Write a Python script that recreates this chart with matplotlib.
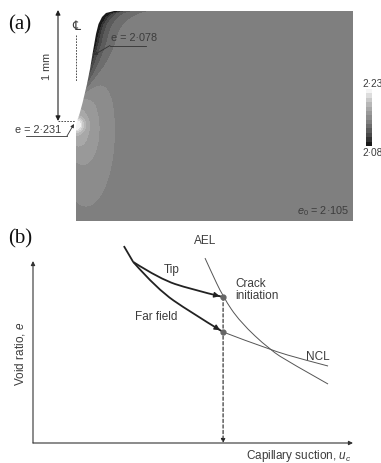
import numpy as np
import matplotlib
matplotlib.use("Agg")
import matplotlib.pyplot as plt
from matplotlib.path import Path
from matplotlib.patches import PathPatch
from matplotlib.colors import ListedColormap, BoundaryNorm

plt.rcParams["font.family"] = ["Liberation Sans", "DejaVu Sans"]
plt.rcParams["mathtext.fontset"] = "custom"
plt.rcParams["mathtext.rm"] = "Liberation Sans"
plt.rcParams["mathtext.it"] = "Liberation Sans:italic"

# ---------------- data: panel (a) ----------------
e_min, e_max, e0 = 2.078, 2.231, 2.105
cbar_labels = ["2·23", "2·08"]
# specimen left boundary (pixels of the drawing)
edge_y = [12, 14, 18, 25, 35, 55, 70, 85, 104, 115, 122, 127, 222]
edge_x = [114, 106, 102, 98.5, 96, 92.5, 90, 87, 82.5, 79.5, 77, 76, 76]
levels_e = [2.078, 2.084, 2.089, 2.094, 2.099, 2.103, 2.107, 2.114, 2.125,
            2.14, 2.16, 2.18, 2.205, 2.231]
band_grays = [0.10, 0.20, 0.29, 0.36, 0.43, 0.50, 0.55, 0.60, 0.66, 0.72,
              0.79, 0.87, 0.96]

# ---------------- data: panel (b) ----------------
steep_suction = [2.84, 3.13]
steep_void = [10.82, 9.95]
tip_suction = [3.13, 3.97, 4.91, 5.94]
tip_void = [9.95, 9.01, 8.46, 8.02]
far_suction = [3.13, 3.875, 4.91, 5.94]
far_void = [9.95, 8.46, 7.2, 6.10]
ael_suction = [5.375, 5.53, 5.94, 6.47, 7.41, 8.03, 9.22]
ael_void = [10.16, 9.56, 8.02, 6.65, 5.11, 4.42, 3.24]
ncl_suction = [5.94, 7.41, 8.5, 9.22]
ncl_void = [6.10, 5.11, 4.56, 4.23]
crack_suction = 5.94

W, H = 381, 464
fig = plt.figure(figsize=(W / 100, H / 100), dpi=100)
txt = "#3c3c3c"


def rect(x0, y0, x1, y1):
    return [x0 / W, 1 - y1 / H, (x1 - x0) / W, (y1 - y0) / H]


# ---------------- panel (a) field ----------------
axa = fig.add_axes(rect(76, 12, 353, 222))
axa.axis("off")
xs = np.linspace(76, 353, 831)
ys = np.linspace(12, 222, 631)
X, Y = np.meshgrid(xs, ys)
xb = np.interp(Y, edge_y, edge_x)
dx = np.clip(X - xb, 0, None)
dark_edge = -(e0 - e_min) * 1.0 * np.exp(-dx / 8) * np.clip((105 - Y) / 60, 0, 1) ** 0.8
dark_top = -0.010 * np.exp(-(Y - 12) / 8) * np.exp(-np.clip(X - 100, 0, None) / 25)
notch = (e_max - e0) * np.exp(-((X - 76) ** 2 + (Y - 126) ** 2) / (2 * 4.5 ** 2))
halo = 0.022 * np.exp(-((X - 76) ** 2 / (2 * 10 ** 2) + (Y - 128) ** 2 / (2 * 17 ** 2)))
blob = 0.011 * np.exp(-((X - 86) / 22) ** 2 - ((Y - 132) / 58) ** 2)
E = np.clip(e0 + dark_edge + dark_top + notch + halo + blob, e_min, e_max - 1e-4)

cmap = ListedColormap([(g, g, g) for g in band_grays])
norm = BoundaryNorm(levels_e, cmap.N)
im = axa.imshow(E, cmap=cmap, norm=norm, extent=(76, 353, 222, 12),
                interpolation="nearest", aspect="auto")
verts = [(x, y) for x, y in zip(edge_x, edge_y)] + [(353, 222), (353, 12), (edge_x[0], edge_y[0])]
clip = PathPatch(Path(verts), transform=axa.transData, facecolor="none", edgecolor="none")
axa.add_patch(clip)
im.set_clip_path(clip)
axa.set_xlim(76, 353)
axa.set_ylim(222, 12)

# colour bar
axc = fig.add_axes(rect(366, 90, 372, 147))
axc.imshow(np.arange(cmap.N)[::-1].reshape(-1, 1), cmap=cmap, aspect="auto",
           interpolation="nearest")
axc.axis("off")

# ---------------- panel (b) ----------------
axb = fig.add_axes(rect(33, 262, 353, 444))
axb.set_xlim(0, 10)
axb.set_ylim(0, 10)
axb.axis("off")


def smooth(xv, yv):
    p = list(zip(xv, yv))
    if len(p) == 2:
        return Path(p)
    v = [p[0]]
    c = [Path.MOVETO]
    for i in range(1, len(p) - 1):
        end = p[-1] if i == len(p) - 2 else ((p[i][0] + p[i + 1][0]) / 2, (p[i][1] + p[i + 1][1]) / 2)
        v += [p[i], end]
        c += [Path.CURVE3, Path.CURVE3]
    return Path(v, c)


def curve(xv, yv, lw, col):
    axb.add_patch(PathPatch(smooth(xv, yv), transform=axb.transData, fill=False,
                            lw=lw, edgecolor=col, clip_on=False, capstyle="butt"))


dark = "#222222"
thin = "#555555"
curve(steep_suction, steep_void, 1.3, dark)
curve(tip_suction, tip_void, 1.3, dark)
curve(far_suction, far_void, 1.3, dark)
curve(ael_suction, ael_void, 0.7, thin)
curve(ncl_suction, ncl_void, 0.7, thin)

for xv, yv in [(tip_suction, tip_void), (far_suction, far_void)]:
    ex, ey = xv[-1], yv[-1]
    sx = ex - 0.12 * (ex - xv[-2])
    sy = ey - 0.12 * (ey - yv[-2])
    axb.annotate("", xy=(ex, ey), xytext=(sx, sy),
                 arrowprops=dict(arrowstyle="-|>", color=dark, lw=1.0,
                                 mutation_scale=8, shrinkA=0, shrinkB=2.5))
axb.plot([crack_suction, crack_suction], [tip_void[-1], far_void[-1]], "o",
         ms=3.5, color="#666666", clip_on=False, zorder=5)
axb.annotate("", xy=(crack_suction, 0), xytext=(crack_suction, tip_void[-1]),
             arrowprops=dict(arrowstyle="-|>", color=dark, lw=0.8, ls=(0, (3, 2)),
                             mutation_scale=6, shrinkA=0, shrinkB=0))
for end in [(1, 0), (0, 1)]:
    axb.annotate("", xy=end, xytext=(0, 0), xycoords="axes fraction",
                 arrowprops=dict(arrowstyle="-|>", color="#333333", lw=0.8,
                                 mutation_scale=6, shrinkA=0, shrinkB=0))

# ---------------- overlay (annotations) ----------------
ov = fig.add_axes([0, 0, 1, 1])
ov.set_xlim(0, W)
ov.set_ylim(H, 0)
ov.axis("off")

serif = ["Liberation Serif", "DejaVu Serif"]
ov.text(8, 25, "(a)", family=serif, fontsize=15, color="#111111", ha="left", va="center")
ov.text(8, 239, "(b)", family=serif, fontsize=15, color="#111111", ha="left", va="center")

fs = 7.8
ov.annotate("", xy=(58, 11), xytext=(58, 122),
            arrowprops=dict(arrowstyle="<|-|>", color="#222222", lw=0.8,
                            mutation_scale=7, shrinkA=0, shrinkB=0))
ov.text(47, 66, "1 mm", rotation=90, fontsize=fs, color=txt, ha="center", va="center")
ov.plot([58, 75], [122, 122], color="#333333", lw=0.6, ls=(0, (2, 1.5)))
ov.text(76, 27, "\u2104", family=["DejaVu Sans"], fontsize=9, color=txt, ha="center", va="center")
ov.plot([76, 76], [36, 82], color="#333333", lw=0.6, ls=(0, (2, 1.5)))

ov.text(111, 38, "e = 2·078", fontsize=fs, color=txt, ha="left", va="center")
ov.plot([146, 110], [46.5, 46.5], color="#333333", lw=0.6)
ov.annotate("", xy=(94, 56), xytext=(110, 46.5),
            arrowprops=dict(arrowstyle="-|>", color="#333333", lw=0.6,
                            mutation_scale=5, shrinkA=0, shrinkB=0))
ov.text(15, 130, "e = 2·231", fontsize=fs, color=txt, ha="left", va="center")
ov.plot([26, 67], [137, 137], color="#333333", lw=0.6)
ov.annotate("", xy=(74, 125), xytext=(67, 137),
            arrowprops=dict(arrowstyle="-|>", color="#333333", lw=0.6,
                            mutation_scale=5, shrinkA=0, shrinkB=0))
ov.text(349, 211, r"$e_0$ = 2·105", fontsize=fs, color=txt, ha="right", va="center")
ov.text(362, 84, cbar_labels[0], fontsize=7.3, color=txt, ha="left", va="center")
ov.text(362, 153, cbar_labels[1], fontsize=7.3, color=txt, ha="left", va="center")

fb = 8.5
ov.text(205, 241, "AEL", fontsize=fb, color=txt, ha="center", va="center")
ov.text(172, 270, "Tip", fontsize=fb, color=txt, ha="center", va="center")
ov.text(156, 317, "Far field", fontsize=fb, color=txt, ha="center", va="center")
ov.text(235, 290, "Crack\ninitiation", fontsize=fb, color=txt, ha="left", va="center",
        linespacing=1.05)
ov.text(318, 357, "NCL", fontsize=fb, color=txt, ha="center", va="center")
ov.text(20, 354, r"Void ratio, $e$", rotation=90, fontsize=fb, color=txt,
        ha="center", va="center")
ov.text(246, 456, r"Capillary suction, $u_c$", fontsize=fb, color=txt, ha="left",
        va="center")

fig.savefig("out.png", dpi=100)
